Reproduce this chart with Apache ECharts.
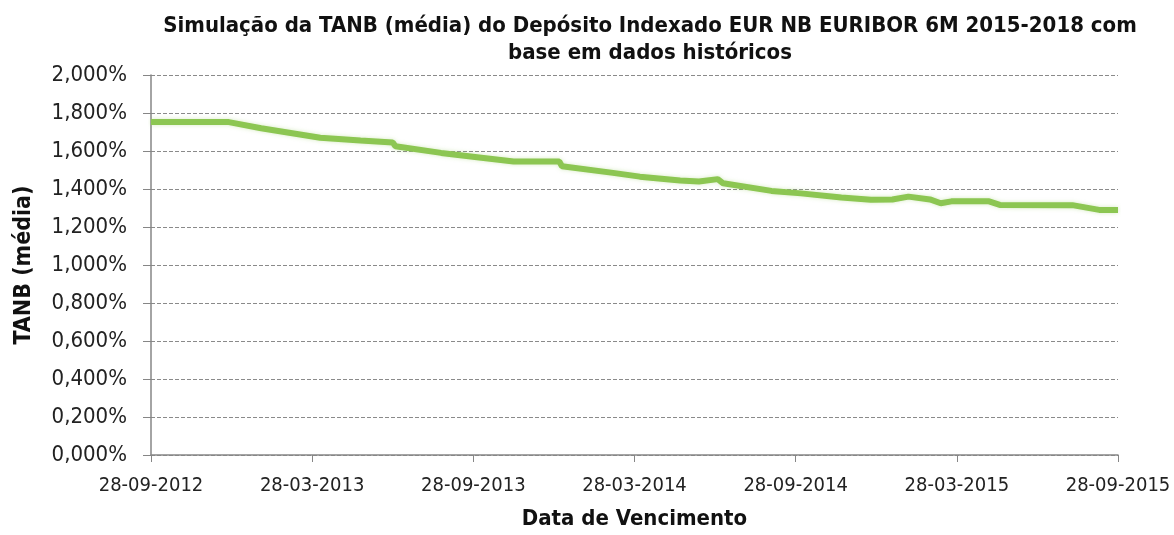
<!DOCTYPE html>
<html>
<head>
<meta charset="utf-8">
<script src="https://cdn.jsdelivr.net/npm/echarts@6/dist/echarts.min.js"></script>
<style>
  html, body { margin: 0; padding: 0; background: #fff; }
  #chart { width: 1174px; height: 535px; }
</style>
</head>
<body>
<div id="chart"></div>
<script>
// x positions are months since 28-09-2012
const tickLabels = ['28-09-2012', '28-03-2013', '28-09-2013', '28-03-2014', '28-09-2014', '28-03-2015', '28-09-2015'];
const monthOffsets = [0, 2.9, 4.1, 6.3, 7.8, 9.0, 9.1, 10.8, 12.3, 13.5, 15.2, 15.3, 17.2, 18.2, 19.7, 20.4, 21.1, 21.3, 23.1, 24.2, 25.7, 26.8, 27.6, 28.2, 29.0, 29.4, 29.8, 31.2, 31.6, 34.3, 35.3, 36];
const tanbValues = [1.752, 1.752, 1.72, 1.67, 1.655, 1.645, 1.625, 1.59, 1.565, 1.545, 1.545, 1.52, 1.485, 1.465, 1.445, 1.44, 1.452, 1.43, 1.39, 1.377, 1.355, 1.343, 1.345, 1.36, 1.345, 1.325, 1.335, 1.335, 1.316, 1.315, 1.29, 1.29];

const font = '"DejaVu Sans Condensed", sans-serif';
const chart = echarts.init(document.getElementById('chart'));

chart.setOption({
    animation: false,
    title: {
        text: 'Simulação da TANB (média) do Depósito Indexado EUR NB EURIBOR 6M 2015-2018 com\nbase em dados históricos',
        left: 645,
        textAlign: 'center',
        top: 8,
        textStyle: { fontFamily: font, fontSize: 22, fontWeight: 'bold', color: '#111', lineHeight: 27 }
    },
    grid: { left: 151, right: 56, top: 75, bottom: 77 },
    xAxis: {
        type: 'value',
        min: 0,
        max: 36,
        interval: 6,
        name: 'Data de Vencimento',
        nameLocation: 'middle',
        nameGap: 53,
        nameTextStyle: { fontFamily: font, fontSize: 22, fontWeight: 'bold', color: '#111' },
        axisLine: { lineStyle: { color: '#868686', width: 1.5 } },
        axisTick: { show: true, length: 7, lineStyle: { color: '#868686' } },
        splitLine: { show: false },
        axisLabel: {
            fontFamily: font, fontSize: 20, color: '#222', margin: 21,
            formatter: v => tickLabels[Math.round(v / 6)]
        }
    },
    yAxis: {
        type: 'value',
        min: 0,
        max: 2,
        interval: 0.2,
        name: 'TANB (média)',
        nameLocation: 'middle',
        nameGap: 115,
        nameTextStyle: { fontFamily: font, fontSize: 23, fontWeight: 'bold', color: '#111' },
        axisLine: { show: true, lineStyle: { color: '#868686', width: 1.5 } },
        axisTick: { show: true, length: 8, lineStyle: { color: '#868686' } },
        splitLine: { lineStyle: { color: '#8a8a8a', type: [4, 2], width: 1 } },
        axisLabel: {
            fontFamily: font, fontSize: 22, color: '#222', margin: 24,
            formatter: v => v.toFixed(3).replace('.', ',') + '%'
        }
    },
    series: [{
        type: 'line',
        data: monthOffsets.map((m, i) => [m, tanbValues[i]]),
        showSymbol: false,
        lineStyle: { color: '#8cc652', width: 6, shadowColor: 'rgba(140,198,82,0.35)', shadowBlur: 4 },
        itemStyle: { color: '#8cc652' }
    }]
});
</script>
</body>
</html>
